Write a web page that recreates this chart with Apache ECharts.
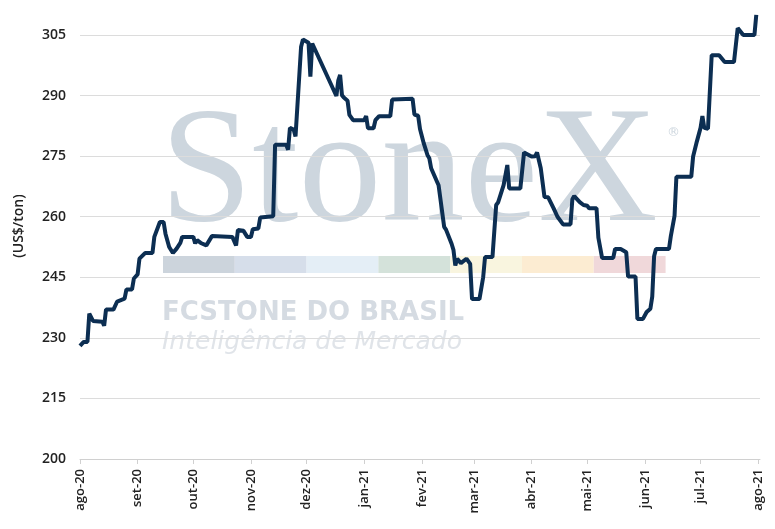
<!DOCTYPE html>
<html>
<head>
<meta charset="utf-8">
<script src="https://cdn.jsdelivr.net/npm/echarts@6/dist/echarts.min.js"></script>
<style>
  html, body { margin: 0; padding: 0; background: #fff; }
  #chart { width: 775px; height: 529px; }
</style>
</head>
<body>
<div id="chart"></div>
<script>
// price readings (US$/ton), date of each reading
var obsDates = [
	'2020-08-01','2020-08-03','2020-08-05','2020-08-06','2020-08-08','2020-08-13','2020-08-14','2020-08-15',
	'2020-08-19','2020-08-21','2020-08-25','2020-08-26','2020-08-29','2020-08-30','2020-09-01','2020-09-02',
	'2020-09-05','2020-09-09','2020-09-10','2020-09-11','2020-09-13','2020-09-15','2020-09-16','2020-09-18',
	'2020-09-20','2020-09-22','2020-09-24','2020-09-25','2020-10-01','2020-10-02','2020-10-03','2020-10-05',
	'2020-10-08','2020-10-11','2020-10-22','2020-10-24','2020-10-25','2020-10-28','2020-10-30','2020-11-01',
	'2020-11-02','2020-11-05','2020-11-06','2020-11-13','2020-11-14','2020-11-20','2020-11-21','2020-11-22',
	'2020-11-24','2020-11-25','2020-11-28','2020-11-29','2020-12-02','2020-12-03','2020-12-04','2020-12-17',
	'2020-12-18','2020-12-19','2020-12-20','2020-12-21','2020-12-23','2020-12-24','2020-12-26','2021-01-01',
	'2021-01-02','2021-01-03','2021-01-06','2021-01-07','2021-01-09','2021-01-15','2021-01-16','2021-01-27',
	'2021-01-28','2021-01-30','2021-01-31','2021-02-02','2021-02-04','2021-02-05','2021-02-06','2021-02-07',
	'2021-02-10','2021-02-11','2021-02-13','2021-02-14','2021-02-17','2021-02-18','2021-02-19','2021-02-20',
	'2021-02-22','2021-02-23','2021-02-25','2021-02-26','2021-02-27','2021-02-28','2021-03-04','2021-03-06',
	'2021-03-07','2021-03-11','2021-03-13','2021-03-14','2021-03-17','2021-03-19','2021-03-20','2021-03-26',
	'2021-03-28','2021-03-29','2021-04-01','2021-04-03','2021-04-04','2021-04-06','2021-04-08','2021-04-10',
	'2021-04-13','2021-04-15','2021-04-16','2021-04-18','2021-04-22','2021-04-23','2021-04-24','2021-04-27',
	'2021-04-29','2021-05-01','2021-05-02','2021-05-06','2021-05-07','2021-05-09','2021-05-15','2021-05-16',
	'2021-05-19','2021-05-22','2021-05-23','2021-05-27','2021-05-28','2021-05-31','2021-06-02','2021-06-04',
	'2021-06-05','2021-06-06','2021-06-07','2021-06-14','2021-06-15','2021-06-17','2021-06-18','2021-06-26',
	'2021-06-27','2021-06-29','2021-07-01','2021-07-02','2021-07-03','2021-07-05','2021-07-07','2021-07-11',
	'2021-07-14','2021-07-19','2021-07-21','2021-07-22','2021-07-24','2021-07-30','2021-07-31'
];
var obsPrices = [
	228, 229, 229, 236, 234.2, 234, 233, 237,
	237, 239, 239.7, 242, 242, 244.7, 245.7, 249.6,
	251, 251, 255, 255.4, 258.7, 258.7, 255.8, 252.5,
	251, 252.1, 253.5, 255, 255, 253.4, 254.2, 253.5,
	252.9, 255.2, 255, 252.9, 256.7, 256.5, 255, 255,
	256.9, 257.1, 259.8, 260.1, 277.8, 277.8, 276.6, 282,
	281.6, 279.9, 302.1, 303.9, 303.1, 294.7, 302.9, 289.9,
	293.7, 295.1, 290.1, 289.5, 288.7, 285.2, 283.9, 283.9,
	284.9, 281.9, 281.9, 283.9, 284.9, 284.9, 289, 289.2,
	285.3, 285, 281.7, 278.2, 275.3, 274.5, 272, 271.6,
	267.8, 267.4, 257.5, 256.8, 253.3, 251.8, 247.9, 249.6,
	248.5, 248.2, 249.6, 250, 248.3, 239.6, 239.6, 245,
	250, 250, 262.9, 263.5, 267.8, 272.8, 267, 267,
	275.9, 275.7, 274.9, 275, 275.9, 272, 264.9, 264.8,
	262, 260, 259.8, 258.1, 258.1, 264.3, 265.1, 263.6,
	262.9, 262.7, 262.1, 262.1, 254.8, 249.8, 249.8, 252,
	252, 251.2, 245.2, 245.2, 234.7, 234.7, 236.4, 237.2,
	240.2, 250.2, 252, 252, 255.2, 260.2, 269.9, 269.9,
	274.9, 278.6, 282, 284.9, 282, 281.8, 300, 300,
	298.3, 298.3, 306.7, 306.9, 305, 305, 310
];
var monthNames = ['jan','fev','mar','abr','mai','jun','jul','ago','set','out','nov','dez'];
var yTicks = [200, 215, 230, 245, 260, 275, 290, 305];

// one category per calendar day
var days = [];
var d = new Date(Date.UTC(2020, 7, 1));
var last = new Date(Date.UTC(2021, 7, 2));
while (d <= last) {
	days.push(d.toISOString().slice(0, 10));
	d = new Date(d.getTime() + 86400000);
}

var lookup = {};
obsDates.forEach(function (dt, i) { lookup[dt] = obsPrices[i]; });
var lineData = days.map(function (dt) {
	return lookup.hasOwnProperty(dt) ? lookup[dt] : null;
});

function isMonthStart(idx, val) {
	return val.slice(8) === '01';
}

var chart = echarts.init(document.getElementById('chart'));

// watermark behind the plot
var barColors = ['#ccd4dc', '#d6deea', '#e4eef6', '#d4e2da', '#f9f5df', '#fcecd2', '#f0d8da'];
var wm = [];
barColors.forEach(function (c, i) {
	wm.push({
		type: 'rect', z: -10, silent: true,
		shape: { x: 163 + i * 71.8, y: 256, width: 71.8, height: 17 },
		style: { fill: c }
	});
});
wm.push({
	type: 'text', z: -10, silent: true, x: 160, y: 259,
	style: { text: 'StoneX', font: '166px "Liberation Serif"', fill: '#cdd6de', textVerticalAlign: 'bottom' }
});
wm.push({
	type: 'text', z: -10, silent: true, x: 667, y: 126,
	style: { text: '®', font: '13px "DejaVu Sans"', fill: '#cdd6de' }
});
wm.push({
	type: 'text', z: -10, silent: true, x: 162, y: 300,
	style: { text: 'FCSTONE DO BRASIL', font: 'bold 26px "DejaVu Sans"', fill: '#d5dbe2' }
});
wm.push({
	type: 'text', z: -10, silent: true, x: 162, y: 330,
	style: { text: 'Inteligência de Mercado', font: 'italic 25px "DejaVu Sans"', fill: '#e0e4e9' }
});
wm.push({
	type: 'text', x: 19, y: 226, rotation: Math.PI / 2,
	style: { text: '(US$/ton)', font: '600 14px "Open Sans"', fill: '#222', textAlign: 'center', textVerticalAlign: 'middle' }
});

var option = {
	animation: false,
	grid: { left: 80, right: 15, top: 35, bottom: 70 },
	graphic: { elements: wm },
	xAxis: {
		type: 'category',
		data: days,
		boundaryGap: false,
		axisLine: { lineStyle: { color: '#d0d0d0', width: 1 } },
		axisTick: { interval: isMonthStart, length: 5, lineStyle: { color: '#d0d0d0' } },
		axisLabel: {
			interval: isMonthStart,
			rotate: 90,
			margin: 10,
			color: '#222',
			fontSize: 13,
			fontWeight: 600,
			fontFamily: 'Open Sans',
			formatter: function (val) {
				return monthNames[parseInt(val.slice(5, 7), 10) - 1] + '-' + val.slice(2, 4);
			}
		}
	},
	yAxis: {
		type: 'value',
		min: yTicks[0],
		max: yTicks[yTicks.length - 1],
		interval: 15,
		axisLine: { show: false },
		axisTick: { show: false },
		axisLabel: { color: '#222', fontSize: 14, fontWeight: 600, fontFamily: 'Open Sans', margin: 14 },
		splitLine: { lineStyle: { color: '#dcdcdc', width: 1 } }
	},
	series: [{
		type: 'line',
		data: lineData,
		connectNulls: true,
		showSymbol: false,
		clip: false,
		lineStyle: { color: '#0c2e52', width: 4 },
		z: 5
	}]
};
chart.setOption(option);
</script>
</body>
</html>
